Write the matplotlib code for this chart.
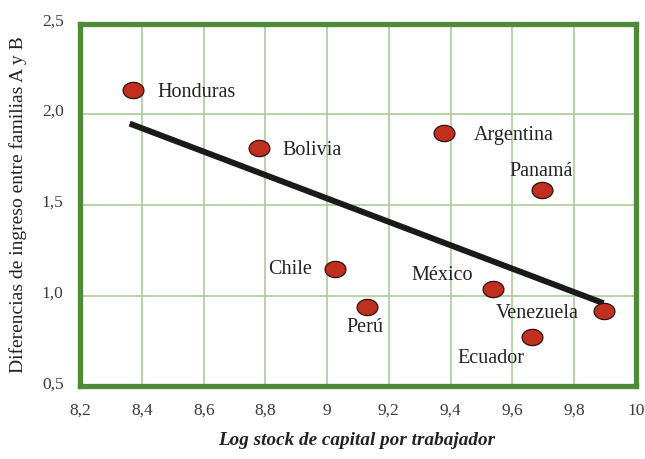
import numpy as np
import matplotlib
matplotlib.use("Agg")
import matplotlib.pyplot as plt
import matplotlib.transforms as mtransforms
from matplotlib.path import Path

countries = ["Honduras", "Bolivia", "Argentina", "Panamá", "Chile", "Perú",
             "México", "Ecuador", "Venezuela"]
log_capital = [8.37, 8.78, 9.38, 9.695, 9.025, 9.13, 9.537, 9.665, 9.896]
income_diff = [2.134, 1.813, 1.895, 1.581, 1.146, 0.936, 1.037, 0.771, 0.914]

x_ticks = [8.2, 8.4, 8.6, 8.8, 9.0, 9.2, 9.4, 9.6, 9.8, 10.0]
x_tick_labels = ["8,2", "8,4", "8,6", "8,8", "9", "9,2", "9,4", "9,6", "9,8", "10"]
y_ticks = [0.5, 1.0, 1.5, 2.0, 2.5]
y_tick_labels = ["0,5", "1,0", "1,5", "2,0", "2,5"]

# label offsets in points (dx, dy, ha)
label_style = {
    "Honduras": (18, -1.5, "left"),
    "Bolivia": (17, -1.5, "left"),
    "Argentina": (21, -1.5, "left"),
    "Panamá": (0, 13.5, "center"),
    "Chile": (-16.5, -0.5, "right"),
    "Perú": (-2, -14.5, "center"),
    "México": (-14.4, 9.8, "right"),
    "Ecuador": (-5.8, -15.4, "right"),
    "Venezuela": (-18, -1.5, "right"),
}

SERIF = "Liberation Serif"
GREEN = "#4f8a38"
GRID = "#a9cc9a"

fig = plt.figure(figsize=(6.45, 4.59), dpi=100)
ax = fig.add_axes([0.1245, 0.1582, 0.861, 0.7904])

ax.set_xlim(8.2, 10.0)
ax.set_ylim(0.5, 2.5)
ax.set_xticks(x_ticks)
ax.set_xticklabels(x_tick_labels)
ax.set_yticks(y_ticks)
ax.set_yticklabels(y_tick_labels)
ax.grid(True, color=GRID, linewidth=1.2)
ax.set_axisbelow(True)
ax.tick_params(length=0, pad=12, labelsize=12.5, labelcolor="#3a3a3a")
for lab in ax.get_xticklabels() + ax.get_yticklabels():
    lab.set_fontfamily(SERIF)
shift = mtransforms.ScaledTranslation(0, 3 / 72, fig.dpi_scale_trans)
for lab in ax.get_yticklabels():
    lab.set_transform(lab.get_transform() + shift)
for s in ax.spines.values():
    s.set_color(GREEN)
    s.set_linewidth(3.8)

# trend line (OLS)
xs = np.array(log_capital)
ys = np.array(income_diff)
b, a = np.polyfit(xs, ys, 1)
xl = np.array([xs.min() - 0.01, xs.max()])
ax.plot(xl, a + b * xl, color="#1a1a1a", linewidth=4.3, solid_capstyle="butt", zorder=3)

# ellipse marker
t = np.linspace(0, 2 * np.pi, 60)
verts = np.column_stack([np.cos(t), 0.78 * np.sin(t)])
ell = Path(verts, closed=True)
ax.plot(xs, ys, linestyle="none", marker=ell, markersize=15,
        markerfacecolor="#c1301e", markeredgecolor="#2a0e0a", markeredgewidth=0.9, zorder=4)

for c, x, y in zip(countries, log_capital, income_diff):
    dx, dy, ha = label_style[c]
    ax.annotate(c, (x, y), xytext=(dx, dy), textcoords="offset points",
                ha=ha, va="center", fontsize=14.5, family=SERIF, color="#222222", zorder=5)

fig.text(0.028, 1 - 205 / 459, "Diferencias de ingreso entre familias A y B",
         rotation=90, ha="center", va="center", fontsize=14, family=SERIF, color="#222222")
fig.text(0.553, 0.04, "Log stock de capital por trabajador", ha="center", va="center",
         fontsize=13.8, family=SERIF, style="italic", weight="bold", color="#222222")

fig.savefig("out.png", dpi=100)
